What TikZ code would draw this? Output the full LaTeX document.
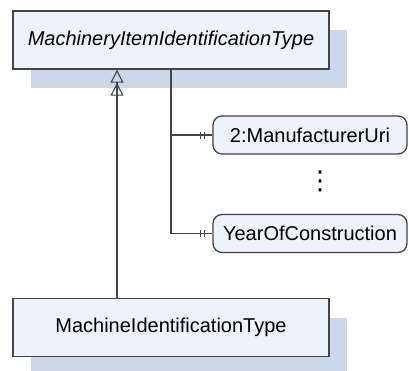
\documentclass[tikz,border=0pt]{standalone}
\usepackage{fontspec}
\setmainfont{Liberation Sans}
\newfontfamily\symfont{DejaVu Sans}
\usetikzlibrary{arrows.meta,shadows}
\definecolor{boxfill}{HTML}{EEF2FA}
\definecolor{boxshade}{HTML}{CBD6E8}
\definecolor{edgegray}{HTML}{444444}
\tikzset{
	typebox/.style={
			draw=edgegray, line width=1.4pt, fill=boxfill,
			minimum width=316pt, minimum height=58pt, inner sep=0pt,
			font=\fontsize{20}{24}\selectfont,
			drop shadow={shadow xshift=18pt, shadow yshift=-19pt, fill=boxshade, opacity=1}
		},
	propbox/.style={
			draw=edgegray, line width=1.3pt, fill=boxfill, rounded corners=9pt,
			minimum width=194pt, minimum height=38pt, inner sep=0pt,
			font=\fontsize{20}{24}\selectfont
		},
	conn/.style={draw=edgegray, line width=1.2pt},
	inherit/.style={conn,
			-{Triangle[open,length=13pt,width=13pt,line width=1.1pt]Triangle[open,length=13pt,width=13pt,line width=1.1pt]}}
}

\begin{document}
\begin{tikzpicture}[x=1pt,y=-1pt]
	\useasboundingbox (0,0) rectangle (409,370);

	\node[typebox] (item) at (171,40) {\itshape MachineryItemIdentificationType};
	\node[typebox] (machine) at (171,327.5) {MachineIdentificationType};

	\node[propbox] (manu) at (310,135) {2:ManufacturerUri};
	\node[propbox] (year) at (310,233.5) {YearOfConstruction};
	\node[font=\symfont\fontsize{26}{30}\selectfont, inner sep=0pt] (dots) at (320,181) {⋮};

	% subtype relation
	\draw[inherit] ([xshift=-54pt]machine.north) -- ([xshift=-54pt]item.south);

	% properties with their multiplicity bars
	\draw[conn] (item.south) |- (manu.west);
	\draw[conn] (item.south) |- (year.west);
	\foreach \p in {manu,year} {
		\draw[conn, line width=1pt] ([xshift=-8pt,yshift=3.5pt]\p.west) -- ++(0,7);
		\draw[conn, line width=1pt] ([xshift=-12pt,yshift=3.5pt]\p.west) -- ++(0,7);
	}
\end{tikzpicture}
\end{document}
